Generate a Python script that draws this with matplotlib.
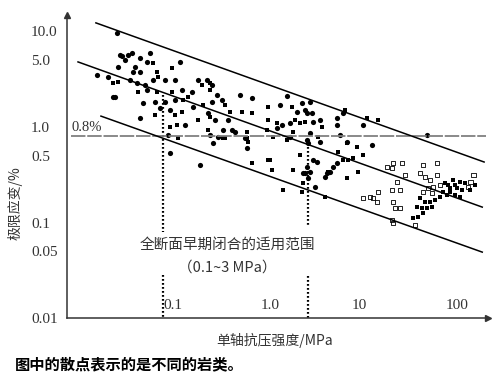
import matplotlib
matplotlib.use("Agg")
import matplotlib.pyplot as plt

plt.rcParams['font.family'] = ['Liberation Serif', 'Noto Sans CJK SC']
cjk = ['Noto Sans CJK SC', 'DejaVu Sans']

# scatter points: strength (MPa), limit strain (%)
big_x = [0.0339, 0.0364, 0.0381, 0.0439, 0.0409, 0.0482, 0.0582, 0.0736, 0.0686, 0.0517,
         0.0347, 0.0493, 0.0582, 0.0212, 0.0274, 0.046, 0.0542, 0.0655, 0.0686, 0.079,
         0.105, 0.132, 0.149, 0.156, 0.198, 0.228, 0.281, 0.0308, 0.0323, 0.0625,
         0.0828, 0.105, 0.132, 0.202, 0.316, 0.0582, 0.093, 0.118, 0.168, 0.288,
         0.316, 0.356, 0.40, 0.61, 0.81, 1.84, 2.62, 3.16, 1.56, 2.33,
         2.81, 2.94, 3.31, 5.97, 6.87, 0.339, 0.46, 1.64, 1.98, 3.39,
         4.0, 5.97, 0.409, 0.506, 1.46, 3.16, 0.301, 0.686, 1.98, 2.94,
         3.01, 4.0, 6.4, 7.55, 0.324, 0.72, 3.39, 3.72, 2.94, 3.16,
         2.81, 5.43, 4.5, 11.0, 13.6, 49.4, 0.112, 0.238, 0.364, 0.542,
         2.68, 3.01, 3.55, 4.71, 5.06, 5.97, 0.118]
big_y = [9.6, 5.68, 5.54, 5.68, 5.03, 5.96, 5.28, 5.96, 4.8, 4.25,
         4.25, 3.77, 3.77, 3.51, 3.34, 3.11, 2.89, 2.75, 2.44, 3.11,
         3.11, 3.11, 4.8, 2.44, 2.32, 3.11, 3.11, 2.06, 2.06, 1.78,
         1.83, 1.83, 1.92, 1.62, 1.83, 1.24, 1.58, 1.51, 1.05, 1.40,
         2.75, 2.16, 1.92, 2.16, 2.01, 2.11, 1.78, 1.83, 1.70, 1.44,
         1.51, 1.40, 1.40, 1.24, 1.40, 1.18, 1.18, 1.05, 1.10, 1.13,
         1.18, 1.05, 0.931, 0.931, 0.977, 0.865, 0.824, 0.767, 0.785, 0.731,
         0.68, 0.696, 0.824, 0.696, 0.68, 0.603, 0.451, 0.43, 0.381, 0.338,
         0.33, 0.381, 0.299, 1.05, 0.648, 0.824, 0.824, 0.40, 0.785, 0.887,
         0.33, 0.292, 0.236, 0.33, 0.338, 0.42, 0.534]

small_x = [0.079, 0.0868, 0.0888, 0.0347, 0.0308, 0.123, 0.25, 0.301, 0.0555, 0.0868,
           0.123, 0.16, 0.18, 0.256, 0.0828, 0.132, 0.156, 0.118, 0.139, 0.228,
           0.288, 0.301, 0.429, 0.64, 0.482, 0.81, 1.18, 2.07, 1.18, 1.46,
           2.22, 2.5, 2.81, 4.19, 0.301, 0.72, 1.15, 2.12, 0.409, 0.736,
           1.33, 3.81, 6.11, 7.72, 1.18, 0.81, 2.12, 4.83, 7.55, 7.2,
           12.1, 15.6, 0.142, 0.429, 0.72, 1.24, 1.29, 1.84, 2.5, 2.68,
           2.62, 1.68, 4.5, 7.55, 9.55, 6.87, 8.68, 11.0, 9.77]
small_y = [4.68, 3.77, 3.34, 2.96, 2.89, 4.15, 2.75, 2.89, 2.32, 2.32,
           2.32, 1.92, 2.06, 1.70, 1.34, 1.34, 1.44, 1.0, 1.05, 1.18,
           0.931, 2.44, 1.70, 1.44, 1.44, 1.40, 1.62, 1.62, 1.18, 1.10,
           1.18, 1.10, 1.13, 1.0, 1.27, 0.887, 0.931, 0.887, 0.767, 0.696,
           0.785, 0.785, 0.547, 0.451, 0.451, 0.42, 0.355, 0.338, 0.292, 1.51,
           1.24, 1.18, 0.767, 0.767, 0.767, 0.451, 0.355, 0.731, 0.509, 0.259,
           0.209, 0.219, 0.185, 0.68, 0.617, 0.451, 0.473, 0.509, 0.338]

sq_x = [75.4, 91.0, 107, 121, 84.7, 100, 112, 95.3, 107, 71.9,
        79.0, 67.0, 84.7, 41.9, 47.1, 53.0, 59.6, 39.1, 43.9, 49.4,
        55.6, 45.0, 40.0, 35.6, 136, 152, 95.3, 80.9]
sq_y = [0.259, 0.279, 0.265, 0.259, 0.23, 0.23, 0.219, 0.194, 0.185, 0.209,
        0.194, 0.185, 0.209, 0.181, 0.164, 0.164, 0.172, 0.145, 0.142, 0.142,
        0.145, 0.126, 0.114, 0.111, 0.219, 0.247, 0.247, 0.247]

open_x = [19.3, 22.2, 27.5, 21.7, 45.0, 62.5, 29.5, 41.9, 47.1, 53.0,
          62.5, 67.0, 129, 56.9, 50.6, 55.6, 45.0, 24.4, 21.7, 26.2,
          15.6, 12.9, 13.9, 15.3, 22.2, 23.3, 26.2, 11.0, 21.7, 22.2,
          37.3, 146, 136]
open_y = [0.381, 0.42, 0.42, 0.372, 0.40, 0.42, 0.314, 0.33, 0.299, 0.279,
          0.314, 0.247, 0.236, 0.236, 0.23, 0.204, 0.209, 0.265, 0.219, 0.219,
          0.209, 0.185, 0.181, 0.164, 0.164, 0.142, 0.142, 0.181, 0.106, 0.099,
          0.094, 0.314, 0.265]

# three parallel bounding lines (end points)
band_x = [[0.0207, 188], [0.0136, 180], [0.0233, 180]]
band_y = [[12.3, 0.43], [4.8, 0.145], [1.30, 0.049]]

limit_strain = 0.8
range_lo, range_hi = 0.1, 3.0

xticks = [0.1, 1.0, 10, 100]
xtick_labels = ['0.1', '1.0', '10', '100']
yticks = [0.01, 0.05, 0.1, 0.5, 1.0, 5.0, 10.0]
ytick_labels = ['0.01', '0.05', '0.1', '0.5', '1.0', '5.0', '10.0']

fig = plt.figure(figsize=(5, 3.8), dpi=100)
ax = fig.add_axes([0.134, 0.163, 0.842, 0.797])
ax.set_xscale('log')
ax.set_yscale('log')
ax.set_xlim(0.0105, 206)
ax.set_ylim(0.01, 14.8)

# dotted vertical range lines, broken where the text sits
dot = dict(color='black', lw=1.6, linestyle=(0, (0.8, 1.0)))
ax.plot([range_lo, range_lo], [2.16, 0.079], **dot)
ax.plot([range_lo, range_lo], [0.028, 0.01], **dot)
ax.plot([range_hi, range_hi], [0.62, 0.089], **dot)
ax.plot([range_hi, range_hi], [0.0275, 0.01], **dot)

ax.plot([0.0115, 195], [limit_strain, limit_strain], color='#808080', lw=1.3,
        linestyle=(0, (8, 1)))
ax.text(0.0118, limit_strain * 1.06, '0.8%', fontsize=10.5, color='#333333',
        ha='left', va='bottom')

for bx, by in zip(band_x, band_y):
    ax.plot(bx, by, color='black', lw=1.1)

ax.scatter(big_x, big_y, s=14, marker='o', color='black', linewidths=0)
ax.scatter(small_x, small_y, s=5, marker='s', color='black', linewidths=0)
ax.scatter(sq_x, sq_y, s=10, marker='s', color='black', linewidths=0)
ax.scatter(open_x, open_y, s=10, marker='s', facecolors='none',
           edgecolors='black', linewidths=0.6)

ax.set_xticks(xticks)
ax.set_xticklabels(xtick_labels)
ax.set_yticks(yticks)
ax.set_yticklabels(ytick_labels)
ax.minorticks_off()
ax.tick_params(axis='x', length=0, pad=-14, labelsize=11, labelcolor='#333333')
ax.tick_params(axis='y', length=0, pad=26, labelsize=11, labelcolor='#333333')
for lab in ax.get_yticklabels():
    lab.set_horizontalalignment('left')
for lab in ax.get_xticklabels()[:2]:
    lab.set_horizontalalignment('left')

for side in ['top', 'right']:
    ax.spines[side].set_visible(False)
for side in ['left', 'bottom']:
    ax.spines[side].set_color('#333333')
    ax.spines[side].set_linewidth(1.1)
ax.plot(0, 1, marker='^', color='#333333', ms=4, transform=ax.transAxes, clip_on=False)
ax.plot(1, 0, marker='>', color='#333333', ms=4, transform=ax.transAxes, clip_on=False)

ax.text(0.38, 0.241, '全断面早期闭合的适用范围', transform=ax.transAxes,
        family=cjk, fontsize=10.5, color='#333333', ha='center', va='center')
ax.text(0.38, 0.168, '（0.1~3 MPa）', transform=ax.transAxes,
        family=cjk, fontsize=10.5, color='#333333', ha='center', va='center')

fig.text(0.03, 0.466, '极限应变/%', rotation=90, family=cjk, fontsize=10,
         color='#333333', ha='center', va='center')
fig.text(0.55, 0.105, '单轴抗压强度/MPa', family=cjk, fontsize=10,
         color='#333333', ha='center', va='center')
fig.text(0.03, 0.04, '图中的散点表示的是不同的岩类。', family=cjk, fontsize=11,
         fontweight='bold', ha='left', va='center')

fig.savefig('out.png', dpi=100)
